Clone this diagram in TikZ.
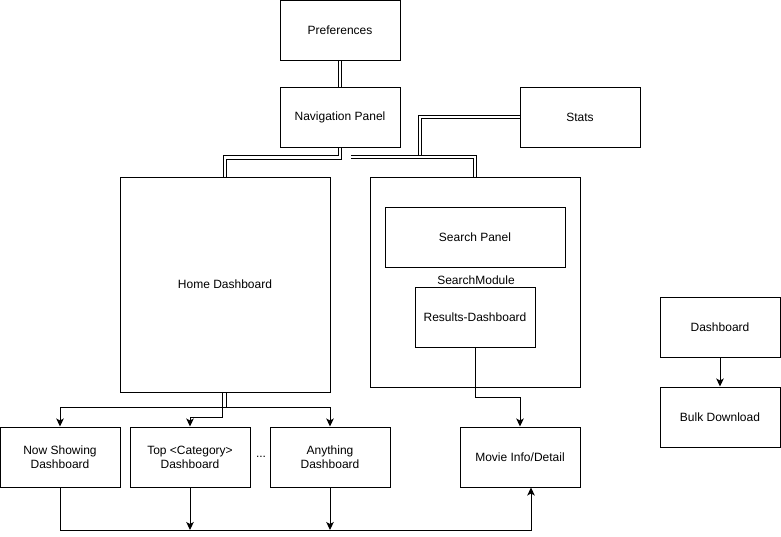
\documentclass[tikz,border=0pt]{standalone}
\usepackage{fontspec}
\setmainfont{Liberation Sans}
\usetikzlibrary{arrows.meta}
\begin{document}
\begin{tikzpicture}[x=1pt,y=-1pt,
  font=\fontsize{12}{14}\selectfont,
  box/.style={draw, line width=1pt, fill=white, minimum width=120pt, minimum height=60pt,
    inner sep=0pt, align=center},
  link/.style={draw, line width=1pt, double, double distance=2.6pt},
  arr/.style={draw, line width=1pt, -{Stealth[length=8pt,width=7.5pt,inset=2pt]}},
  plain/.style={draw, line width=1pt}]
\useasboundingbox (0,0) rectangle (781,536);

% boxes
\node[box] (pref) at (340,30.5) {Preferences};
\node[box] (nav) at (340,117) {Navigation Panel};
\node[box] (stats) at (580,117) {Stats};
\node[box, minimum width=210pt, minimum height=215pt] (home) at (225,284.5) {Home Dashboard};
\node[box, minimum width=210pt, minimum height=210pt] (smod) at (475,282) {};
\node[box, minimum width=180pt] (spanel) at (475,237) {Search Panel};
\node (smlabel) at (476,280) {SearchModule};
\node[box] (results) at (475,317) {Results-Dashboard};
\node[box] (dash) at (720,327) {Dashboard};
\node[box] (bulk) at (720,417) {Bulk Download};
\node[box] (nowshow) at (60,457) {Now Showing\\Dashboard};
\node[box] (topcat) at (190,457) {Top {<}Category{>}\\Dashboard};
\node (dots) at (261,457) {...};
\node[box] (anything) at (330,457) {Anything\\Dashboard};
\node[box] (movie) at (520,457) {Movie Info/Detail};

% free ends
\coordinate (navright) at (351,157);
\coordinate (statsdrop) at (420,157);
\coordinate (bottomrail) at (60,530);
\coordinate (topcatend) at (190,530);
\coordinate (anyend) at (330,530);

% double links
\path[link] (stats.west) -| (statsdrop);
\path[link] (pref.south) -- (nav.north);
\path[link] (nav.south) -- ++(0,10) -| (home.north);
\path[link] (navright) -| (smod.north);

% arrows from the home dashboard
\path[arr] ([xshift=1pt]home.south) -- ++(0,15) -| (nowshow.north);
\path[arr] ([xshift=1pt]home.south) -- ++(0,15) -| (anything.north);
\path[arr] ([xshift=-3pt]home.south) -- ++(0,25) -| (topcat.north);

% bottom rail to the detail view
\path[arr] (nowshow.south) |- (bottomrail) -| ([xshift=11pt]movie.south);
\path[arr] (topcat.south) -- (topcatend);
\path[arr] (anything.south) -- (anyend);

% results to the detail view
\path[arr] (results.south) -- ++(0,50) -| (movie.north);

% dashboard to bulk download
\path[arr] (dash.south) -- (bulk.north);
\end{tikzpicture}
\end{document}
